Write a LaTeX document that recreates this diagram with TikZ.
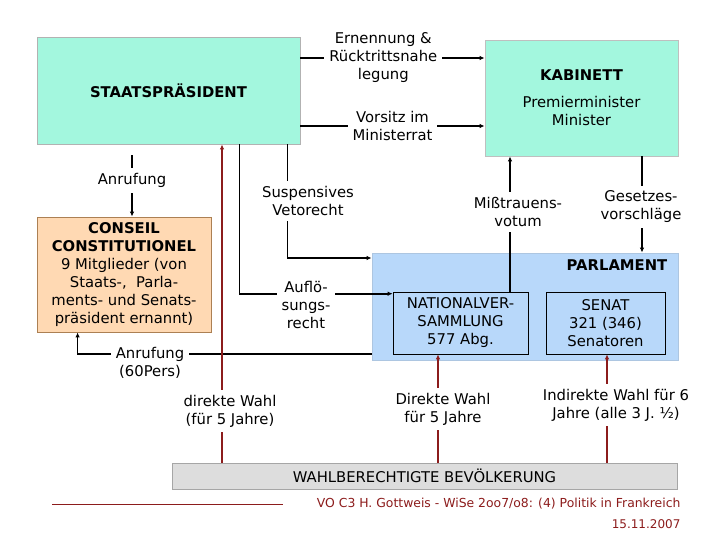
\documentclass[tikz,border=0pt]{standalone}
\usepackage{fontspec}
\setmainfont{DejaVu Sans}
\usetikzlibrary{positioning,arrows.meta,calc}
\definecolor{praesgreen}{RGB}{163,247,222}
\definecolor{conseilpeach}{RGB}{255,217,179}
\definecolor{parlblue}{RGB}{184,216,250}
\definecolor{volkgray}{RGB}{221,221,221}
\definecolor{wahlred}{RGB}{140,28,28}

\begin{document}
\begin{tikzpicture}[
    x=1pt, y=-1pt,
    >={Latex[length=5pt,width=4.5pt]},
    font=\fontsize{14.8}{18}\selectfont,
    organ/.style={draw, line width=0.8pt, align=center, inner sep=2pt},
    lbl/.style={align=center, fill=white, inner sep=5pt},
    link/.style={line width=1.6pt},
    wahl/.style={line width=1.6pt, draw=wahlred}
]
\useasboundingbox (0,0) rectangle (720,540);

\node[organ, fill=praesgreen, draw=gray!60, minimum width=263pt, minimum height=107pt] (praes) at (168.5,90.5) {\raisebox{-4pt}{\textbf{STAATSPRÄSIDENT}}};
\node[organ, fill=praesgreen, draw=gray!50, minimum width=193pt, minimum height=116pt] (kab) at (581.5,98) {\textbf{KABINETT}\\[9pt]Premierminister\\Minister};
\node[organ, fill=conseilpeach, draw=brown!70!gray, minimum width=174pt, minimum height=115pt] (conseil) at (124,274.5) {\textbf{CONSEIL}\\\textbf{CONSTITUTIONEL}\\9 Mitglieder (von\\Staats-,\ \ Parla-\\ments- und Senats-\\präsident ernannt)};
\node[organ, fill=parlblue, draw=parlblue!80!gray, minimum width=306pt, minimum height=107pt] (parl) at (525,306.5) {};
\node[anchor=center] (parltitle) at (617,265) {\textbf{PARLAMENT}};
\node[organ, fill=parlblue, draw=black, line width=0.6pt, minimum width=135pt, minimum height=62pt] (nv) at (460.5,323) {NATIONALVER-\\SAMMLUNG\\577 Abg.};
\node[organ, fill=parlblue, draw=black, line width=0.6pt, minimum width=119pt, minimum height=62pt] (senat) at (605.5,323) {SENAT\\321 (346)\\Senatoren};
\node[organ, fill=volkgray, draw=gray!70, minimum width=505pt, minimum height=26pt] (volk) at (424.5,476) {WAHLBERECHTIGTE BEVÖLKERUNG};

% Staatspraesident -> Kabinett
\draw[link,->] ([yshift=32.5pt]praes.east) -- node[lbl, pos=0.45]{Ernennung \&\\Rücktrittsnahe\\legung} ([yshift=40pt]kab.west);
\draw[link,->] ([yshift=-35.5pt]praes.east) -- node[lbl]{Vorsitz im\\Ministerrat} ([yshift=-28pt]kab.west);

% Anrufung
\draw[link,->,shorten <=11pt] ([xshift=8pt]conseil.north |- praes.south) -- node[lbl, pos=0.5]{Anrufung} ([xshift=8pt]conseil.north);
\draw[link,->] ([yshift=-47.5pt]parl.west) -| ([xshift=41pt]conseil.south west);
\node[lbl] (anr60) at (150,363) {Anrufung\\(60Pers)};

% Aufloesung und Veto
\draw[link,->] ([xshift=203pt]praes.south west) |- ([yshift=-2pt]nv.north west);
\node[lbl] (aufl) at (306,305) {Auflö-\\sungs-\\recht};
\draw[link,->] ([xshift=251pt]praes.south west) |- ([yshift=48.5pt]parl.west);
\node[lbl] (veto) at (308,201) {Suspensives\\Vetorecht};

% Parlament <-> Kabinett
\draw[link,->] ([xshift=49.5pt]nv.north) -- ([xshift=49.5pt]nv.north |- kab.south);
\node[lbl] (miss) at (518,212) {Mißtrauens-\\votum};
\draw[link,->] ([xshift=60.5pt]kab.south) -- ([xshift=60.5pt]kab.south |- parl.north);
\node[lbl] (gesetz) at (641,207) {Gesetzes-\\vorschläge};

% Wahlen
\draw[wahl,->] ([xshift=-202.5pt]volk.north) -- ([xshift=-202.5pt]volk.north |- praes.south);
\node[lbl] (wahlpraes) at (230,411) {direkte Wahl\\(für 5 Jahre)};
\draw[wahl,->] ([xshift=-22.5pt]nv.south |- volk.north) -- ([xshift=-22.5pt]nv.south);
\node[lbl] (wahlnv) at (443,409) {Direkte Wahl\\für 5 Jahre};
\draw[wahl,->] ([xshift=1.5pt]senat.south |- volk.north) -- ([xshift=1.5pt]senat.south);
\node[lbl] (wahlsenat) at (616,405) {Indirekte Wahl für 6\\Jahre (alle 3 J. ½)};

% Fusszeile
\draw[wahlred, line width=0.8pt] (52,504) -- (283,504);
\node[anchor=east, text=wahlred, font=\fontsize{12.4}{14}\selectfont] (fuss) at (684,504) {VO C3 H. Gottweis - WiSe 2oo7/o8: (4) Politik in Frankreich};
\node[anchor=east, text=wahlred, font=\fontsize{12}{14}\selectfont] (datum) at (684,524) {15.11.2007};
\end{tikzpicture}
\end{document}
